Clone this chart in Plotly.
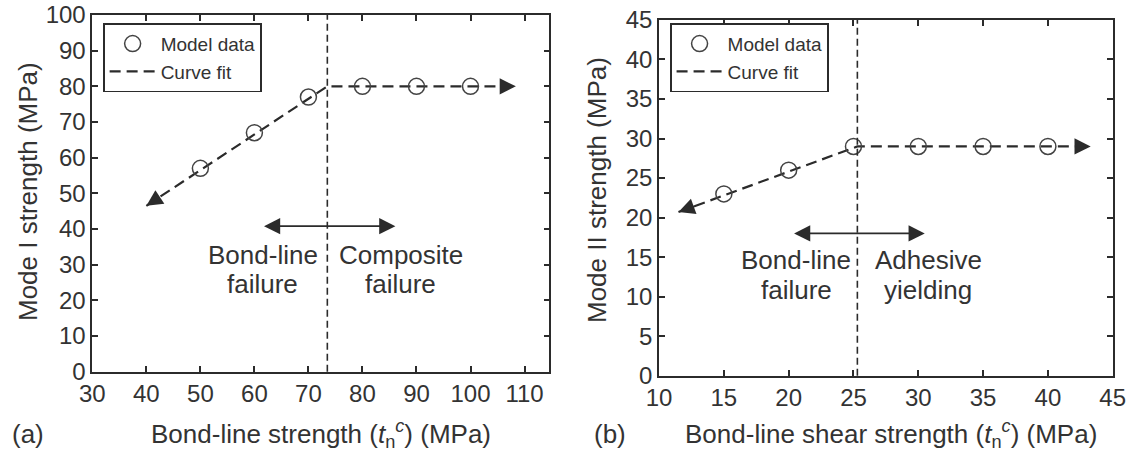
import plotly.graph_objects as go

# ---- data: panel (a), Mode I ----
a_x = [50, 60, 70, 80, 90, 100]
a_y = [57, 67, 77, 80, 80, 80]
a_fit_x = [40, 73.5, 108.4]
a_fit_y = [46.5, 80, 80]
a_split = 73.5
a_xticks = [30, 40, 50, 60, 70, 80, 90, 100, 110]
a_yticks = [0, 10, 20, 30, 40, 50, 60, 70, 80, 90, 100]

# ---- data: panel (b), Mode II ----
b_x = [15, 20, 25, 30, 35, 40]
b_y = [23, 26, 29, 29, 29, 29]
b_fit_x = [11.5, 25.3, 43.3]
b_fit_y = [20.7, 29, 29]
b_split = 25.3
b_xticks = [10, 15, 20, 25, 30, 35, 40, 45]
b_yticks = [0, 5, 10, 15, 20, 25, 30, 35, 40, 45]

FONT = "Liberation Sans, Arial, sans-serif"
INK = "#2b2b2b"
TXT = "#333333"

fig = go.Figure()

def add_panel(xs, ys, fx, fy, xa, ya, legend):
    fig.add_trace(go.Scatter(
        x=fx, y=fy, mode="lines", name="Curve fit",
        line=dict(color=INK, width=2.2, dash="11px,6px"),
        xaxis=xa, yaxis=ya, legend=legend, legendrank=2,
        legendgroup=legend + "fit"))
    fig.add_trace(go.Scatter(
        x=xs, y=ys, mode="markers", name="Model data",
        marker=dict(symbol="circle-open", size=16, color="#444444",
                    line=dict(width=1.5, color="#444444")),
        xaxis=xa, yaxis=ya, legend=legend, legendrank=1,
        legendgroup=legend + "data"))

add_panel(a_x, a_y, a_fit_x, a_fit_y, "x", "y", "legend")
add_panel(b_x, b_y, b_fit_x, b_fit_y, "x2", "y2", "legend2")

axis_common = dict(
    showline=True, linecolor=INK, linewidth=1.6, mirror="ticks",
    ticks="inside", ticklen=6, tickwidth=1.6, tickcolor=INK,
    showgrid=False, zeroline=False, automargin=False,
    ticklabeloverflow="allow",
    tickfont=dict(family=FONT, size=24, color=TXT),
)

legend_common = dict(
    xanchor="left", yanchor="top",
    bordercolor=INK, borderwidth=1.6, bgcolor="white",
    font=dict(family=FONT, size=19, color=TXT),
    tracegroupgap=0, itemwidth=46,
)

fig.update_layout(
    width=1126, height=454, autosize=False,
    margin=dict(l=0, r=0, t=0, b=0, pad=0, autoexpand=False),
    paper_bgcolor="white", plot_bgcolor="white",
    font=dict(family=FONT, color=TXT),
    xaxis=dict(domain=[0.082, 0.4879], range=[30, 114.6],
               tickvals=a_xticks, anchor="y", **axis_common),
    yaxis=dict(domain=[0.1813, 0.967], range=[0, 100],
               tickvals=a_yticks, anchor="x", **axis_common),
    xaxis2=dict(domain=[0.5853, 0.9882], range=[10, 45],
                tickvals=b_xticks, anchor="y2", **axis_common),
    yaxis2=dict(domain=[0.1725, 0.956], range=[0, 45],
                tickvals=b_yticks, anchor="x2", **axis_common),
    legend=dict(x=0.0915, y=0.949, **legend_common),
    legend2=dict(x=0.595, y=0.949, **legend_common),
)

# vertical divider between failure regimes
for xv, xref, yref in [(a_split, "x", "y domain"), (b_split, "x2", "y2 domain")]:
    fig.add_shape(type="line", x0=xv, x1=xv, y0=0, y1=1, xref=xref, yref=yref,
                  line=dict(color=INK, width=1.6, dash="7px,4px"))

def end_arrow(fx, fy, i, j, xref, yref, frac):
    # arrowhead at point i, short solid tail toward point j
    tx = fx[i] + (fx[j] - fx[i]) * frac
    ty = fy[i] + (fy[j] - fy[i]) * frac
    fig.add_annotation(x=fx[i], y=fy[i], ax=tx, ay=ty, xref=xref, yref=yref,
                       axref=xref, ayref=yref, showarrow=True, text="",
                       arrowhead=2, arrowsize=1.8, arrowwidth=1.8,
                       arrowcolor=INK)

end_arrow(a_fit_x, a_fit_y, 0, 1, "x", "y", 0.08)
end_arrow(a_fit_x, a_fit_y, 2, 1, "x", "y", 0.07)
end_arrow(b_fit_x, b_fit_y, 0, 1, "x2", "y2", 0.10)
end_arrow(b_fit_x, b_fit_y, 2, 1, "x2", "y2", 0.07)

# double-headed regime arrows
for x0, x1, yv, xref, yref in [(61.5, 86.1, 40.8, "x", "y"),
                               (20.3, 30.5, 18.0, "x2", "y2")]:
    fig.add_annotation(x=x1, y=yv, ax=x0, ay=yv, xref=xref, yref=yref,
                       axref=xref, ayref=yref, showarrow=True, text="",
                       arrowhead=2, startarrowhead=2, arrowside="end+start",
                       arrowsize=1.8, startarrowsize=1.8, arrowwidth=1.8,
                       arrowcolor=INK)

# regime labels, one annotation per line for tight line spacing
labels = [
    (61.5, 32.7, "Bond-line", "x", "y"),
    (61.5, 24.6, "failure", "x", "y"),
    (87.1, 32.7, "Composite", "x", "y"),
    (87.1, 24.6, "failure", "x", "y"),
    (20.6, 14.6, "Bond-line", "x2", "y2"),
    (20.6, 10.9, "failure", "x2", "y2"),
    (30.75, 14.6, "Adhesive", "x2", "y2"),
    (30.75, 10.9, "yielding", "x2", "y2"),
]
for xv, yv, txt, xref, yref in labels:
    fig.add_annotation(x=xv, y=yv, text=txt, xref=xref, yref=yref,
                       showarrow=False, xanchor="center", yanchor="middle",
                       font=dict(family=FONT, size=26, color=TXT))

# axis titles and panel tags
W, H = 1126, 454
titles = [
    (321, 434, "Bond-line strength (<i>t</i><sub>n</sub><sup><i>c</i></sup>) (MPa)", 0),
    (891, 434, "Bond-line shear strength (<i>t</i><sub>n</sub><sup><i>c</i></sup>) (MPa)", 0),
    (28, 192, "Mode I strength (MPa)", -90),
    (597, 190, "Mode II strength (MPa)", -90),
]
for px, py, txt, ang in titles:
    fig.add_annotation(x=px / W, y=1 - py / H, xref="paper", yref="paper",
                       text=txt, showarrow=False, textangle=ang,
                       xanchor="center", yanchor="middle",
                       font=dict(family=FONT, size=26, color=TXT))
for px, txt in [(28, "(a)"), (610, "(b)")]:
    fig.add_annotation(x=px / W, y=1 - 434 / H, xref="paper", yref="paper",
                       text=txt, showarrow=False, xanchor="center",
                       yanchor="middle",
                       font=dict(family=FONT, size=26, color=TXT))

fig.write_html(
    "out.html",
    post_script="document.body.style.margin='0';"
                "document.body.style.overflow='hidden';",
)
